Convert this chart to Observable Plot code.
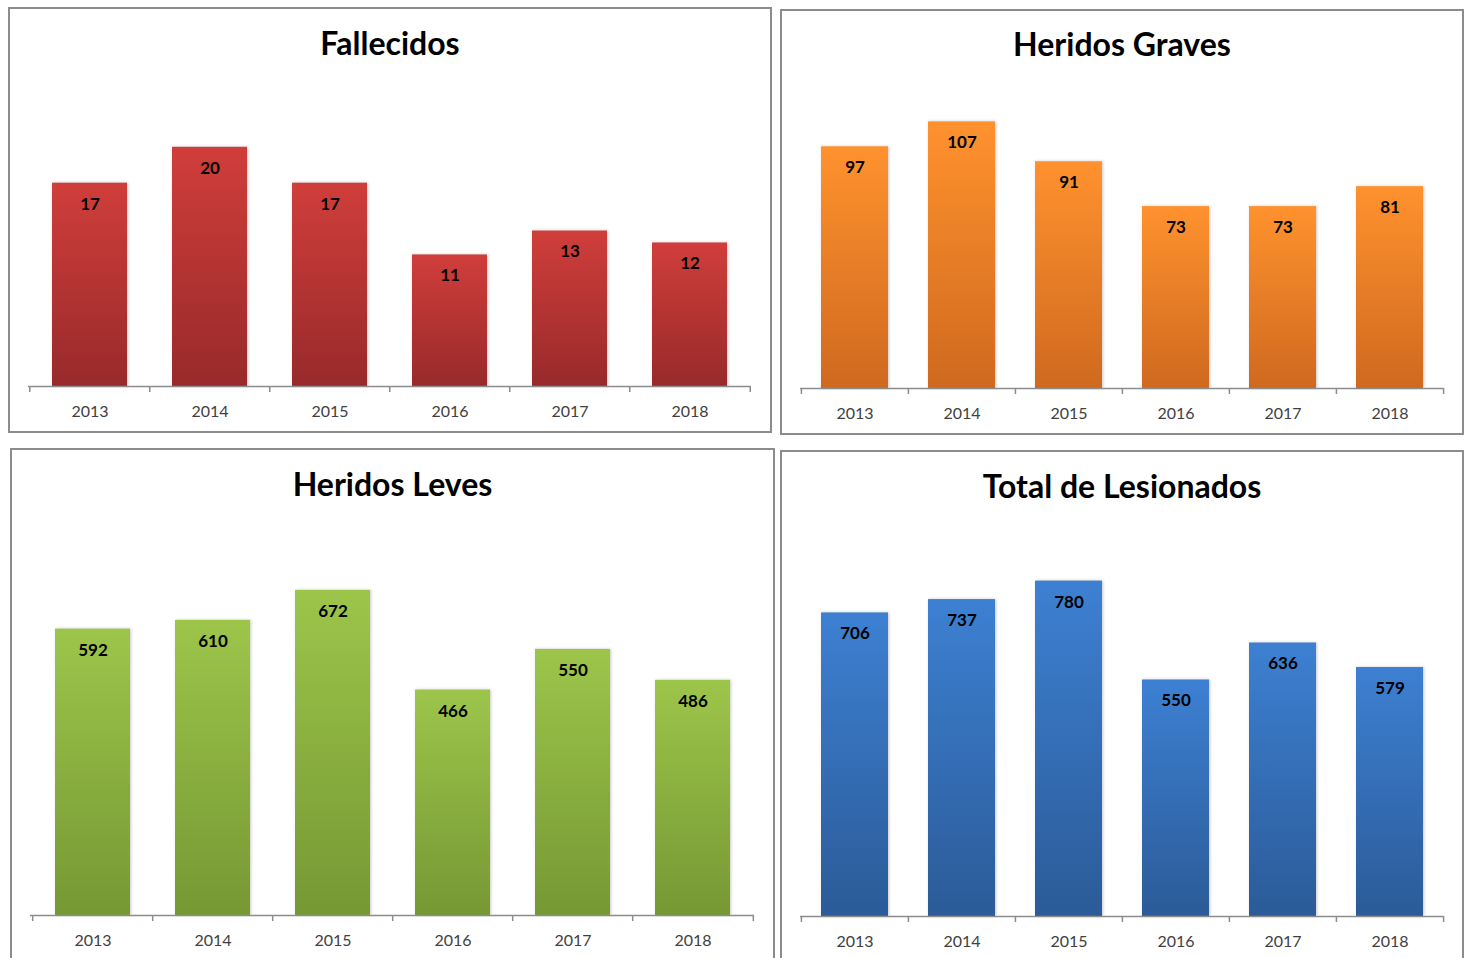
<!DOCTYPE html>
<html>
<head>
<meta charset="utf-8">
<script src="https://cdn.jsdelivr.net/npm/d3@7"></script>
<script src="https://cdn.jsdelivr.net/npm/@observablehq/plot@0.6"></script>
<style>
  html, body { margin: 0; padding: 0; background: #fff; }
  body { width: 1470px; height: 958px; position: relative; overflow: hidden; font-family: Lato, "Noto Sans", sans-serif; }
  .frame { position: absolute; border: 2px solid #8c8c8c; box-sizing: border-box; }
  .chart { position: absolute; }
  .title { position: absolute; text-align: center; font-weight: bold; font-size: 32px; line-height: 36px; color: #000; }
  .chart g[aria-label="bar"] rect { filter: drop-shadow(1.5px 0px 1.5px rgba(0,0,0,0.22)); }
</style>
</head>
<body>
<svg width="0" height="0" style="position:absolute">
  <defs>
    <linearGradient id="gRed" x1="0" y1="0" x2="0" y2="1">
      <stop offset="0" stop-color="#D03E3B"/><stop offset="1" stop-color="#982A2A"/>
    </linearGradient>
    <linearGradient id="gOrange" x1="0" y1="0" x2="0" y2="1">
      <stop offset="0" stop-color="#FF922E"/><stop offset="1" stop-color="#CF691F"/>
    </linearGradient>
    <linearGradient id="gGreen" x1="0" y1="0" x2="0" y2="1">
      <stop offset="0" stop-color="#9DC54A"/><stop offset="1" stop-color="#769834"/>
    </linearGradient>
    <linearGradient id="gBlue" x1="0" y1="0" x2="0" y2="1">
      <stop offset="0" stop-color="#3D80D2"/><stop offset="1" stop-color="#2B5B98"/>
    </linearGradient>
  </defs>
</svg>
<script>
const years = ["2013", "2014", "2015", "2016", "2017", "2018"];
const fallecidos = [17, 20, 17, 11, 13, 12];
const heridosGraves = [97, 107, 91, 73, 73, 81];
const heridosLeves = [592, 610, 672, 466, 550, 486];
const totalLesionados = [706, 737, 780, 550, 636, 579];
const titles = ["Fallecidos", "Heridos Graves", "Heridos Leves", "Total de Lesionados"];
const yMax = [25, 120, 800, 900];

const panels = [
  {title: titles[0], values: fallecidos, max: yMax[0], grad: "gRed", left: 8, top: 7, width: 764, frameH: 426, height: 426, mt: 80, mb: 47, titleTop: 25},
  {title: titles[1], values: heridosGraves, max: yMax[1], grad: "gOrange", left: 780, top: 9, width: 684, frameH: 426, height: 426, mt: 80, mb: 47, titleTop: 26},
  {title: titles[2], values: heridosLeves, max: yMax[2], grad: "gGreen", left: 10, top: 448, width: 765, frameH: 540, height: 510, mt: 80, mb: 43, titleTop: 466},
  {title: titles[3], values: totalLesionados, max: yMax[3], grad: "gBlue", left: 780, top: 450, width: 684, frameH: 540, height: 508, mt: 79, mb: 42, titleTop: 468}
];

for (const p of panels) {
  const frame = document.createElement("div");
  frame.className = "frame";
  Object.assign(frame.style, {left: p.left + "px", top: p.top + "px", width: p.width + "px", height: p.frameH + "px"});
  document.body.appendChild(frame);

  const data = years.map((y, i) => ({year: y, value: p.values[i]}));
  const ml = 20, mr = 21;
  const step = (p.width - ml - mr) / years.length;
  const chart = Plot.plot({
    width: p.width,
    height: p.height,
    marginTop: p.mt,
    marginBottom: p.mb,
    marginLeft: ml,
    marginRight: mr,
    style: {fontFamily: "Lato, 'Noto Sans', sans-serif", background: "transparent", overflow: "visible"},
    x: {domain: years, paddingInner: 0.375, paddingOuter: 0.1875, label: null},
    y: {domain: [0, p.max], axis: null},
    marks: [
      Plot.barY(data, {x: "year", y: "value", fill: `url(#${p.grad})`}),
      Plot.ruleY([0], {stroke: "#8c8c8c", strokeWidth: 1.5}),
      Plot.axisX({tickSize: 6, dx: -step / 2, text: null, label: null, stroke: "#8c8c8c", strokeWidth: 1.5}),
      Plot.axisX({ticks: [years[years.length - 1]], tickSize: 6, dx: step / 2, text: null, label: null, stroke: "#8c8c8c", strokeWidth: 1.5}),
      Plot.axisX({tickSize: 0, tickPadding: 19, fontSize: 16, fill: "#404040", label: null}),
      Plot.text(data, {x: "year", y: "value", text: d => String(d.value), dy: 21, fontWeight: "bold", fontSize: 17, fill: "#000"})
    ]
  });
  chart.classList.add("chart");
  Object.assign(chart.style, {left: p.left + "px", top: p.top + "px"});
  document.body.appendChild(chart);

  const t = document.createElement("div");
  t.className = "title";
  t.textContent = p.title;
  Object.assign(t.style, {left: p.left + "px", width: p.width + "px", top: p.titleTop + "px"});
  document.body.appendChild(t);
}
</script>
</body>
</html>
